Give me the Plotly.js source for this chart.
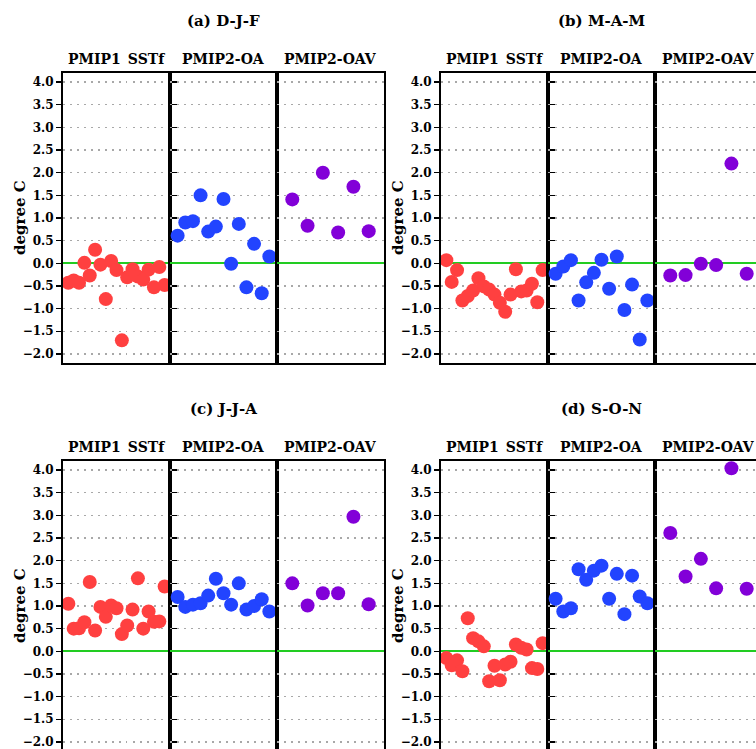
<!DOCTYPE html>
<html>
<head>
<meta charset="utf-8">
<script src="https://cdn.plot.ly/plotly-3.0.1.min.js"></script>
<style>
html, body { margin: 0; padding: 0; overflow: hidden; background: #fff; }
#chart { width: 800px; height: 800px; }
</style>
</head>
<body>
<div id="chart"></div>
<script>
// ---- data ----
const panelTitles = ["(a) D-J-F", "(b) M-A-M", "(c) J-J-A", "(d) S-O-N"];
const sectionNames = ["PMIP1\u2002SSTf", "PMIP2-OA", "PMIP2-OAV"];
const yTitle = "degree C";
const tickValues = [-2.0, -1.5, -1.0, -0.5, 0.0, 0.5, 1.0, 1.5, 2.0, 2.5, 3.0, 3.5, 4.0];

const djfPmip1 = [-0.43, -0.38, -0.43, 0.01, -0.27, 0.30, -0.03, -0.79, 0.05, -0.15, -1.70, -0.31, -0.13, -0.29, -0.36, -0.14, -0.53, -0.08, -0.48];
const djfOA    = [0.61, 0.90, 0.93, 1.50, 0.70, 0.81, 1.42, -0.01, 0.87, -0.53, 0.43, -0.66, 0.15];
const djfOAV   = [1.41, 0.83, 2.00, 0.68, 1.69, 0.71];

const mamPmip1 = [0.07, -0.41, -0.15, -0.82, -0.72, -0.60, -0.33, -0.51, -0.58, -0.69, -0.87, -1.07, -0.69, -0.13, -0.62, -0.60, -0.45, -0.86, -0.15];
const mamOA    = [-0.23, -0.07, 0.07, -0.82, -0.42, -0.21, 0.08, -0.56, 0.15, -1.03, -0.47, -1.68, -0.82];
const mamOAV   = [-0.27, -0.26, -0.01, -0.04, 2.20, -0.23];

const jjaPmip1 = [1.05, 0.50, 0.51, 0.64, 1.53, 0.46, 0.98, 0.76, 1.01, 0.95, 0.38, 0.57, 0.92, 1.61, 0.50, 0.88, 0.65, 0.66, 1.43];
const jjaOA    = [1.20, 0.98, 1.03, 1.06, 1.23, 1.60, 1.28, 1.03, 1.50, 0.92, 1.00, 1.15, 0.88];
const jjaOAV   = [1.50, 1.01, 1.28, 1.28, 2.97, 1.04];

const sonPmip1 = [-0.15, -0.31, -0.20, -0.44, 0.73, 0.29, 0.22, 0.11, -0.66, -0.32, -0.64, -0.29, -0.23, 0.15, 0.08, 0.04, -0.37, -0.39, 0.18];
const sonOA    = [1.16, 0.88, 0.95, 1.81, 1.58, 1.78, 1.89, 1.16, 1.71, 0.82, 1.67, 1.21, 1.06];
const sonOAV   = [2.61, 1.65, 2.04, 1.39, 4.04, 1.38];

const panelData = [
  [djfPmip1, djfOA, djfOAV],
  [mamPmip1, mamOA, mamOAV],
  [jjaPmip1, jjaOA, jjaOAV],
  [sonPmip1, sonOA, sonOAV]
];
const sectionColors = ["#ff4040", "#2244ff", "#8200d8"];

// ---- layout geometry (pixels) ----
const W = 800, H = 800;
const panelLeft = [63, 441];
const panelTop = [73, 461];
const secW = 107;
const panelH = 290;
const fx = p => p / W;
const fy = p => 1 - p / H;
const FONT = "DejaVu Serif";

const traces = [];
const layout = {
  width: W, height: H,
  margin: {l: 0, r: 0, t: 0, b: 0},
  paper_bgcolor: "#fff", plot_bgcolor: "#fff",
  showlegend: false,
  font: {family: FONT, color: "#000"},
  annotations: []
};

for (let p = 0; p < 4; p++) {
  const col = p % 2, row = Math.floor(p / 2);
  const L = panelLeft[col], T = panelTop[row];
  const yName = "y" + (p + 1);
  const yKey = "yaxis" + (p === 0 ? "" : (p + 1));
  layout[yKey] = {
    domain: [fy(T + panelH), fy(T)],
    anchor: "x" + (p * 3 + 1),
    range: [-2.2, 4.2],
    tickvals: tickValues,
    tickformat: ".1f",
    ticks: "outside", ticklen: 5, tickwidth: 1.5, tickcolor: "#000",
    tickfont: {family: FONT, size: 12, weight: "bold", color: "#000"},
    showline: true, mirror: "all", linecolor: "#000", linewidth: 2,
    showgrid: true, gridcolor: "#a8a8a8", gridwidth: 1.5, griddash: "1.5px,5.5px",
    zeroline: true, zerolinecolor: "#22cc22", zerolinewidth: 2,
    fixedrange: true
  };
  for (let s = 0; s < 3; s++) {
    const xi = p * 3 + s + 1;
    const xKey = "xaxis" + (xi === 1 ? "" : xi);
    const vals = panelData[p][s];
    layout[xKey] = {
      domain: [fx(L + s * secW), fx(L + (s + 1) * secW)],
      anchor: yName,
      range: [0, vals.length + 1],
      showticklabels: false, ticks: "",
      showgrid: false, zeroline: false,
      showline: true, mirror: true, linecolor: "#000", linewidth: 2,
      fixedrange: true
    };
    traces.push({
      type: "scatter", mode: "markers",
      x: vals.map((v, i) => i + 1),
      y: vals,
      xaxis: "x" + xi, yaxis: yName,
      marker: {color: sectionColors[s], size: 14, line: {width: 0}},
      cliponaxis: false,
      hoverinfo: "y"
    });
    layout.annotations.push({
      xref: "paper", yref: "paper",
      x: fx(L + (s + 0.5) * secW), y: fy(T - 14),
      xanchor: "center", yanchor: "middle",
      text: sectionNames[s], showarrow: false,
      font: {family: FONT, size: 14, weight: "bold", color: "#000"}
    });
  }
  layout.annotations.push({
    xref: "paper", yref: "paper",
    x: fx(L + 1.5 * secW), y: fy(T - 52.3),
    xanchor: "center", yanchor: "middle",
    text: panelTitles[p], showarrow: false,
    font: {family: FONT, size: 15, weight: "bold", color: "#000"}
  });
  layout.annotations.push({
    xref: "paper", yref: "paper",
    x: fx(L - 43), y: fy(T + panelH / 2),
    xanchor: "center", yanchor: "middle", textangle: -90,
    text: yTitle, showarrow: false,
    font: {family: FONT, size: 15, weight: "bold", color: "#000"}
  });
}

Plotly.newPlot("chart", traces, layout, {staticPlot: true, displayModeBar: false});
</script>
</body>
</html>
